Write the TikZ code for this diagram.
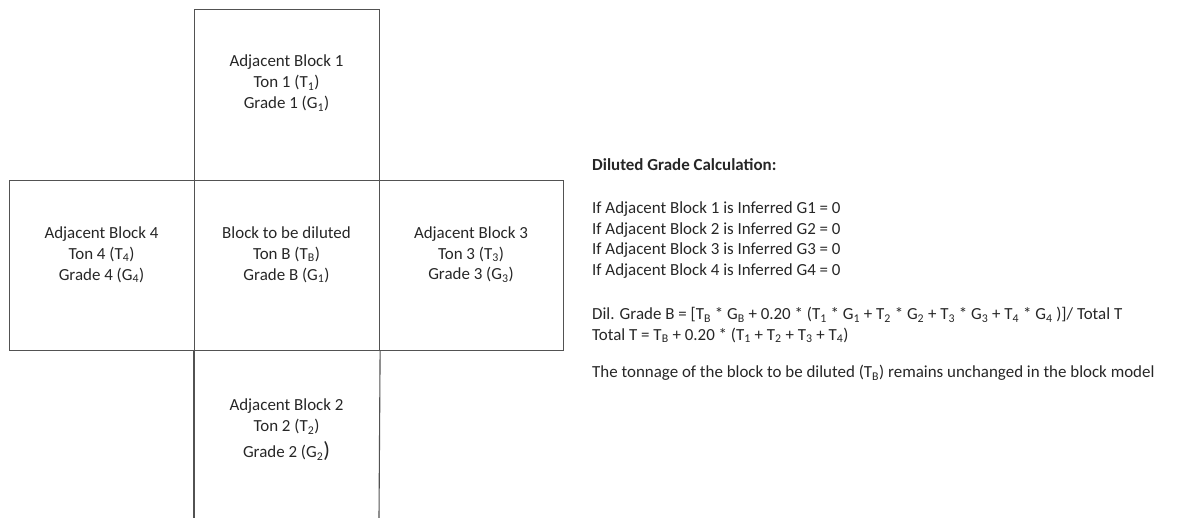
\documentclass[tikz,border=0pt]{standalone}
\usepackage{fontspec}
\setmainfont{Carlito}
\begin{document}
\begin{tikzpicture}[x=1bp,y=-1bp,
  blk/.style={draw=black!68,line width=1.1bp,inner sep=0pt,anchor=north west},
  edge/.style={draw=black!68,line width=1.1bp},
  lbl/.style={align=center,font=\fontsize{17}{21}\selectfont,text=black!85,inner sep=0pt},
  txt/.style={anchor=west,align=left,font=\fontsize{17}{20.6}\selectfont,text=black!85,inner sep=0pt}]
\useasboundingbox (0,0) rectangle (1180,518);
% blocks
\node[blk,minimum width=185bp,minimum height=171bp] (b1) at (194,9) {};
\node[blk,minimum width=185bp,minimum height=170bp] (b4) at (9,180) {};
\node[blk,minimum width=185bp,minimum height=170bp] (bB) at (194,180) {};
\node[blk,minimum width=184bp,minimum height=170bp] (b3) at (379,180) {};
\coordinate (b2sw) at (194,518);
\coordinate (b2se) at (379,518);
\draw[edge] (bB.south west) -- (b2sw);
\draw[edge] (bB.south east) -- (b2se);
% labels
\node[lbl] (t1) at (286.5,83) {Adjacent Block 1\\Ton 1 (T\textsubscript{1})\\Grade 1 (G\textsubscript{1})};
\node[lbl] (t4) at (101.5,254.5) {Adjacent Block 4\\Ton 4 (T\textsubscript{4})\\Grade 4 (G\textsubscript{4})};
\node[lbl] (tB) at (286.5,254.5) {Block to be diluted\\Ton B (T\textsubscript{B})\\Grade B (G\textsubscript{1})};
\node[lbl] (t3) at (471,254.5) {Adjacent Block 3\\Ton 3 (T\textsubscript{3})\\Grade 3 (G\textsubscript{3})};
\node[lbl] (t2) at (286.5,430) {Adjacent Block 2\\Ton 2 (T\textsubscript{2})\\[5bp]Grade 2 (G\textsubscript{2}{\fontsize{22}{22}\selectfont )}};
% calculation text
\node[txt,font=\fontsize{17}{20.6}\selectfont\bfseries] (h) at (592,165) {Diluted Grade Calculation:};
\node[txt] (c1) at (592,240) {If Adjacent Block 1 is Inferred G1 = 0\\If Adjacent Block 2 is Inferred G2 = 0\\If Adjacent Block 3 is Inferred G3 = 0\\If Adjacent Block 4 is Inferred G4 = 0};
\node[txt] (c2) at (592,325) {Dil. Grade B = [T\textsubscript{B} * G\textsubscript{B} + 0.20 * (T\textsubscript{1} * G\textsubscript{1} + T\textsubscript{2} * G\textsubscript{2} + T\textsubscript{3} * G\textsubscript{3} + T\textsubscript{4} * G\textsubscript{4} )]/ Total T\\Total T = T\textsubscript{B} + 0.20 * (T\textsubscript{1} + T\textsubscript{2} + T\textsubscript{3} + T\textsubscript{4})};
\node[txt] (c3) at (592,373) {The tonnage of the block to be diluted (T\textsubscript{B}) remains unchanged in the block model};
\end{tikzpicture}
\end{document}
